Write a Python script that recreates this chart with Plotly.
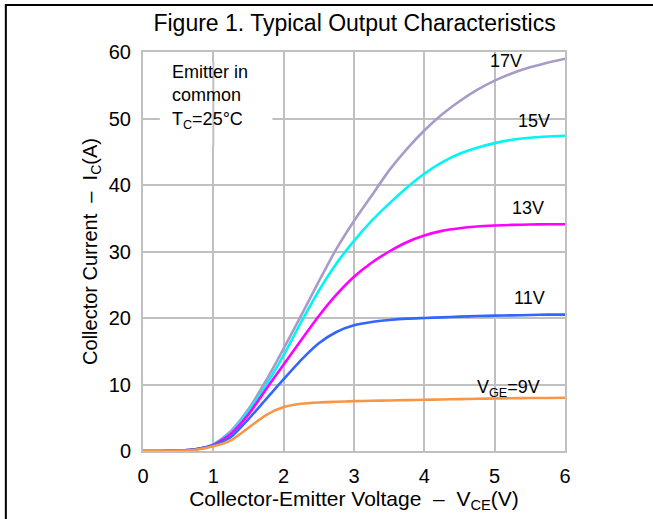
import plotly.graph_objects as go

# Collector-emitter voltage (V)
vce = [0, 0.25, 0.5, 0.75, 1.0, 1.25, 1.5, 1.75, 2.0, 2.25, 2.5, 2.75, 3.0,
       3.25, 3.5, 3.75, 4.0, 4.25, 4.5, 4.75, 5.0, 5.25, 5.5, 5.75, 6.0]

# Collector current (A) for each gate voltage
ic_17v = [0, 0, 0.05, 0.25, 1.0, 3.0, 6.3, 10.6, 15.4, 20.4, 25.5, 30.4, 34.6,
          38.4, 42.2, 45.4, 48.2, 50.6, 52.6, 54.3, 55.7, 56.8, 57.7, 58.4, 59.0]
ic_15v = [0, 0, 0.05, 0.25, 0.95, 2.8, 6.0, 9.9, 14.4, 19.4, 24.1, 28.2, 31.6,
          34.6, 37.2, 39.6, 41.7, 43.4, 44.7, 45.6, 46.3, 46.8, 47.1, 47.3, 47.4]
ic_13v = [0, 0, 0.05, 0.25, 0.9, 2.6, 5.5, 9.3, 13.0, 16.7, 20.3, 23.5, 26.2,
          28.3, 30.0, 31.4, 32.4, 33.1, 33.5, 33.75, 33.9, 34.0, 34.05, 34.1, 34.1]
ic_11v = [0, 0, 0.05, 0.25, 0.85, 2.1, 4.8, 7.8, 10.8, 13.7, 16.2, 17.9, 18.9,
          19.4, 19.7, 19.9, 20.0, 20.1, 20.2, 20.3, 20.35, 20.4, 20.45, 20.5, 20.5]
ic_9v = [0, 0, 0.05, 0.2, 0.7, 1.6, 3.5, 5.4, 6.6, 7.1, 7.3, 7.4, 7.5,
         7.55, 7.6, 7.65, 7.7, 7.75, 7.8, 7.85, 7.9, 7.93, 7.96, 7.98, 8.0]

series_names = ["17V", "15V", "13V", "11V", "V<sub>GE</sub>=9V"]
series_values = [ic_17v, ic_15v, ic_13v, ic_11v, ic_9v]
series_colors = ["#A99BC8", "#00F5F5", "#FF00FF", "#3366FF", "#F79646"]
label_pos = [(5.16, 58.6), (5.56, 49.6), (5.48, 36.5), (5.5, 23.0), (5.2, 9.4)]

x_ticks = [0, 1, 2, 3, 4, 5, 6]
y_ticks = [0, 10, 20, 30, 40, 50, 60]

FONT = "Liberation Sans, Arial, sans-serif"
GRID = "#C0C0C0"

fig = go.Figure()
for name, vals, col in zip(series_names, series_values, series_colors):
    fig.add_trace(go.Scatter(x=vce, y=vals, mode="lines", name=name,
                             line=dict(color=col, width=2.6, shape="spline", smoothing=0.6),
                             showlegend=False, hoverinfo="skip"))

for name, (lx, ly) in zip(series_names, label_pos):
    fig.add_annotation(x=lx, y=ly, text=name, showarrow=False,
                       font=dict(family=FONT, size=18, color="black"),
                       xanchor="center", yanchor="middle")

# White box behind condition note, gridline at x=1 passes through
fig.add_shape(type="rect", x0=0.24, x1=1.84, y0=46, y1=58.5, xref="x", yref="y",
              fillcolor="white", line=dict(width=0), layer="above")
fig.add_shape(type="line", x0=1, x1=1, y0=46, y1=58.5, xref="x", yref="y",
              line=dict(color=GRID, width=2), layer="above")
fig.add_annotation(x=0.38, y=58.8, text="Emitter in<br>common<br>T<sub>C</sub>=25°C",
                   showarrow=False, align="left", xanchor="left", yanchor="top",
                   font=dict(family=FONT, size=18, color="black"))

# Outer frame (left and top visible)
fig.add_shape(type="rect", xref="paper", yref="paper", x0=-0.325, x1=2.0, y0=-1.0, y1=1.118,
              line=dict(color="black", width=2), fillcolor="rgba(0,0,0,0)")

fig.update_layout(
    width=653, height=519,
    margin=dict(l=143, r=88, t=52, b=68),
    paper_bgcolor="white", plot_bgcolor="white",
    title=dict(text="Figure 1. Typical Output Characteristics", x=0.543, xanchor="center",
               y=0.956, yanchor="middle", font=dict(family=FONT, size=23, color="black")),
    font=dict(family=FONT, color="black"),
)
fig.update_xaxes(range=[0, 6], tickvals=x_ticks, ticktext=[str(t) for t in x_ticks],
                 showgrid=True, gridcolor=GRID, gridwidth=2, zeroline=False,
                 showline=True, linecolor=GRID, linewidth=2, mirror=True,
                 ticks="", ticklabelstandoff=6, tickfont=dict(size=20, family=FONT),
                 title=dict(text="Collector-Emitter Voltage  –  V<sub>CE</sub>(V)",
                            font=dict(size=21, family=FONT), standoff=4))
fig.update_yaxes(range=[0, 60], tickvals=y_ticks, ticktext=[str(t) for t in y_ticks],
                 showgrid=True, gridcolor=GRID, gridwidth=2, zeroline=False,
                 showline=True, linecolor=GRID, linewidth=2, mirror=True,
                 ticks="", ticklabelstandoff=6, tickfont=dict(size=20, family=FONT),
                 title=dict(text="Collector Current  –  I<sub>C</sub>(A)",
                            font=dict(size=20, family=FONT), standoff=6))

fig.write_html("out.html")
